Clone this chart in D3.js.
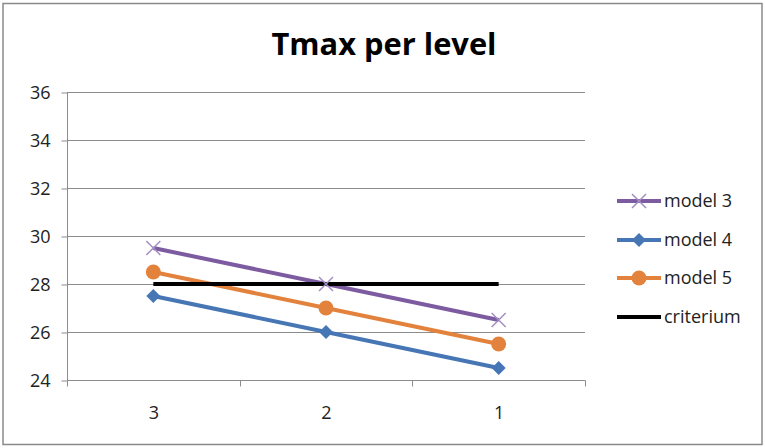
<!DOCTYPE html>
<html>
<head>
<meta charset="utf-8">
<script src="https://cdn.jsdelivr.net/npm/d3@7"></script>
<style>
  html, body { margin: 0; padding: 0; background: #fff; }
  svg { display: block; }
  text { font-family: "Open Sans", "Noto Sans", sans-serif; }
</style>
</head>
<body>
<svg id="chart" width="765" height="448"></svg>
<script>
// Categories (levels) and series values
const levels = ["3", "2", "1"];
const model3 = [29.5, 28, 26.5];
const model4 = [27.5, 26, 24.5];
const model5 = [28.5, 27, 25.5];
const criterium = [28, 28, 28];
const yTicks = [24, 26, 28, 30, 32, 34, 36];

const series = [
  { name: "model 3", values: model3, color: "#7D5BA0", marker: "x" },
  { name: "model 4", values: model4, color: "#4776B4", marker: "diamond" },
  { name: "model 5", values: model5, color: "#E2823C", marker: "circle" },
  { name: "criterium", values: criterium, color: "#000000", marker: null }
];

const svg = d3.select("#chart");
const plot = { left: 67, right: 585, top: 92, bottom: 380 };

// outer chart frame
svg.append("rect")
  .attr("x", 3).attr("y", 3.5).attr("width", 759).attr("height", 441)
  .attr("fill", "#fff").attr("stroke", "#8a8a8a").attr("stroke-width", 1.5);

// title
svg.append("text")
  .attr("x", 384).attr("y", 55)
  .attr("text-anchor", "middle")
  .attr("font-size", 31).attr("font-weight", "bold")
  .attr("fill", "#000")
  .attr("textLength", 225).attr("lengthAdjust", "spacingAndGlyphs")
  .text("Tmax per level");

const x = d3.scaleBand().domain(levels).range([plot.left, plot.right]);
const y = d3.scaleLinear().domain([24, 36]).range([plot.bottom, plot.top]);
const cx = d => x(d) + x.bandwidth() / 2;

// horizontal gridlines
svg.append("g").selectAll("line").data(yTicks.filter(t => t !== 24)).join("line")
  .attr("x1", plot.left).attr("x2", plot.right)
  .attr("y1", d => Math.round(y(d)) + 0.5).attr("y2", d => Math.round(y(d)) + 0.5)
  .attr("stroke", "#8c8c8c").attr("stroke-width", 1);

// y axis
const yAxis = svg.append("g")
  .attr("transform", `translate(${plot.left + 0.5},0.5)`)
  .call(d3.axisLeft(y).tickValues(yTicks).tickSize(6).tickPadding(11));
yAxis.select(".domain").attr("stroke", "#8c8c8c").attr("d", `M0,${plot.top}V${plot.bottom}`);
yAxis.selectAll(".tick line").attr("stroke", "#8c8c8c");
yAxis.selectAll(".tick text").attr("font-size", 18).attr("fill", "#222")
  .style("font-family", "'Open Sans', 'Noto Sans', sans-serif");

// x axis with tick marks on band boundaries
const xAxis = svg.append("g")
  .attr("transform", `translate(0.5,${plot.bottom + 0.5})`);
xAxis.append("line")
  .attr("x1", plot.left).attr("x2", plot.right)
  .attr("stroke", "#8c8c8c");
const bounds = levels.map(d => x(d)).concat([plot.right]);
xAxis.selectAll("line.tk").data(bounds).join("line").attr("class", "tk")
  .attr("x1", d => Math.round(d)).attr("x2", d => Math.round(d))
  .attr("y1", 0).attr("y2", 6).attr("stroke", "#8c8c8c");
xAxis.selectAll("text").data(levels).join("text")
  .attr("x", d => cx(d)).attr("y", 38)
  .attr("text-anchor", "middle")
  .attr("font-size", 18).attr("fill", "#222")
  .text(d => d);

// lines
const line = d3.line().x((v, i) => cx(levels[i])).y(v => y(v));
svg.append("g").selectAll("path").data(series).join("path")
  .attr("d", s => line(s.values))
  .attr("fill", "none")
  .attr("stroke", s => s.color)
  .attr("stroke-width", 4)
  .attr("stroke-linejoin", "round");

function drawMarker(g, type, color, px, py) {
  if (type === "x") {
    const r = 7;
    g.append("path")
      .attr("d", `M${px - r},${py - r}L${px + r},${py + r}M${px - r},${py + r}L${px + r},${py - r}`)
      .attr("stroke", "#A38FC2").attr("stroke-width", 1.5).attr("fill", "none");
  } else if (type === "diamond") {
    const r = 7;
    g.append("path")
      .attr("d", `M${px},${py - r}L${px + r},${py}L${px},${py + r}L${px - r},${py}Z`)
      .attr("fill", color);
  } else if (type === "circle") {
    g.append("circle").attr("cx", px).attr("cy", py).attr("r", 7.5).attr("fill", color);
  }
}

// markers
const markers = svg.append("g");
series.forEach(s => {
  if (!s.marker) return;
  s.values.forEach((v, i) => drawMarker(markers, s.marker, s.color, cx(levels[i]), y(v)));
});

// legend
const legendY = [201, 240, 278, 317];
const legend = svg.append("g");
series.forEach((s, i) => {
  const ly = legendY[i];
  legend.append("line")
    .attr("x1", 617).attr("x2", 661).attr("y1", ly).attr("y2", ly)
    .attr("stroke", s.color).attr("stroke-width", 4);
  if (s.marker) drawMarker(legend, s.marker, s.color, 639, ly);
  legend.append("text")
    .attr("x", 664).attr("y", ly + 6)
    .attr("font-size", 18).attr("fill", "#222")
    .text(s.name);
});
</script>
</body>
</html>
